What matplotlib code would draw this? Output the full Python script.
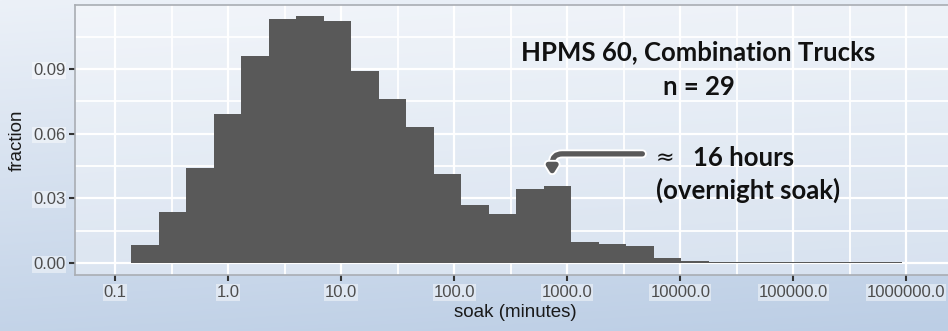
import numpy as np
import matplotlib
matplotlib.use('Agg')
import matplotlib.pyplot as plt
from matplotlib import patheffects

# Histogram of soak time (log10 bins), fraction of soaks per bin
bin_start = -0.858          # log10(minutes) of first bin edge
bin_width = 0.2434          # bin width in decades
fractions = [0.0083, 0.0238, 0.0439, 0.0690, 0.0960, 0.1130, 0.1144, 0.1124,
             0.0890, 0.0760, 0.0632, 0.0413, 0.0269, 0.0226, 0.0342, 0.0357,
             0.0099, 0.0088, 0.0080, 0.0022, 0.0009, 0.0003, 0.0003, 0.0003,
             0.0003, 0.0002, 0.0002, 0.0002]

x_ticks = [0.1, 1, 10, 100, 1000, 10000, 100000, 1000000]
x_tick_labels = ['0.1', '1.0', '10.0', '100.0', '1000.0', '10000.0', '100000.0', '1000000.0']
y_ticks = [0.0, 0.03, 0.06, 0.09]
y_tick_labels = ['0.00', '0.03', '0.06', '0.09']

edges = 10 ** (bin_start + bin_width * np.arange(len(fractions) + 1))

plt.rcParams['font.family'] = ['Liberation Sans', 'DejaVu Sans']

fig = plt.figure(figsize=(9.48, 3.31), dpi=100)

# slide style background gradient
bg = fig.add_axes([0, 0, 1, 1], zorder=-10)
yy, xx = np.mgrid[0:1:200j, 0:1:200j]
t = np.clip(0.85 * yy + 0.15 * xx, 0, 1)
top = np.array([236, 241, 248]) / 255
bot = np.array([188, 206, 229]) / 255
grad = top[None, None, :] * (1 - t[..., None]) + bot[None, None, :] * t[..., None]
bg.imshow(grad, aspect='auto', extent=[0, 1, 0, 1], origin='upper')
bg.axis('off')

ax = fig.add_axes([75 / 948, 56 / 331, 880 / 948, 270.3 / 331])
ax.set_facecolor((1, 1, 1, 0.35))

ax.bar(edges[:-1], fractions, width=np.diff(edges), align='edge',
       color='#595959', linewidth=0, zorder=3)

ax.set_xscale('log')
ax.set_xticks(x_ticks)
ax.set_xticklabels(x_tick_labels)
ax.set_xticks([10 ** (k + 0.5) for k in range(-2, 7)], minor=True)
ax.xaxis.set_minor_formatter(matplotlib.ticker.NullFormatter())
ax.set_yticks(y_ticks)
ax.set_yticklabels(y_tick_labels)
ax.set_yticks([0.015, 0.045, 0.075, 0.105], minor=True)

# limits after the ticks, so the minor ticks don't widen the view
ax.set_xlim(10 ** -1.354, 10 ** 6.43)
ax.set_ylim(-0.0056, 0.1198)

ax.grid(which='major', color='white', linewidth=1.6, zorder=1)
ax.grid(which='minor', color='white', linewidth=1.3, zorder=1)
ax.set_axisbelow(True)

ax.tick_params(which='major', length=4, width=1.5, color='#333333',
               labelsize=12, labelcolor='#4d4d4d', pad=3)
ax.tick_params(which='minor', length=0)
for lbl in ax.get_xticklabels() + ax.get_yticklabels():
    lbl.set_bbox(dict(boxstyle='square,pad=0.05', fc='white', ec='none', alpha=0.45))

for side in ['top', 'left', 'bottom']:
    ax.spines[side].set_color('#a9adb3')
    ax.spines[side].set_linewidth(1.2)
ax.spines['right'].set_visible(False)

ax.set_xlabel('soak (minutes)', fontsize=13.5, color='#1a1a1a', labelpad=3)
ax.set_ylabel('fraction', fontsize=13.5, color='#1a1a1a', labelpad=5)

# annotations
bold = dict(family=['Lato', 'DejaVu Sans'], fontweight='bold', fontsize=18.5, color='#111111')
ax.text(14500, 0.0979, 'HPMS 60, Combination Trucks', ha='center', va='center', **bold)
ax.text(14500, 0.0816, 'n = 29', ha='center', va='center', **bold)
ax.text(6010, 0.0487, '\u2248', ha='left', va='center', fontsize=16,
        family=['DejaVu Sans'], color='#111111')
ax.text(13030, 0.0487, '16 hours', ha='left', va='center', **bold)
ax.text(6140, 0.0339, '(overnight soak)', ha='left', va='center', **bold)

ax.annotate('', xy=(736, 0.0405), xytext=(4620, 0.0506),
            arrowprops=dict(arrowstyle='-|>,head_length=0.45,head_width=0.28',
                            connectionstyle='angle,angleA=0,angleB=90,rad=10',
                            lw=3.8, color='#595959', shrinkA=0, shrinkB=0,
                            path_effects=[patheffects.withStroke(linewidth=6.5, foreground='white')]),
            zorder=5)

fig.savefig('out.png', dpi=100)
